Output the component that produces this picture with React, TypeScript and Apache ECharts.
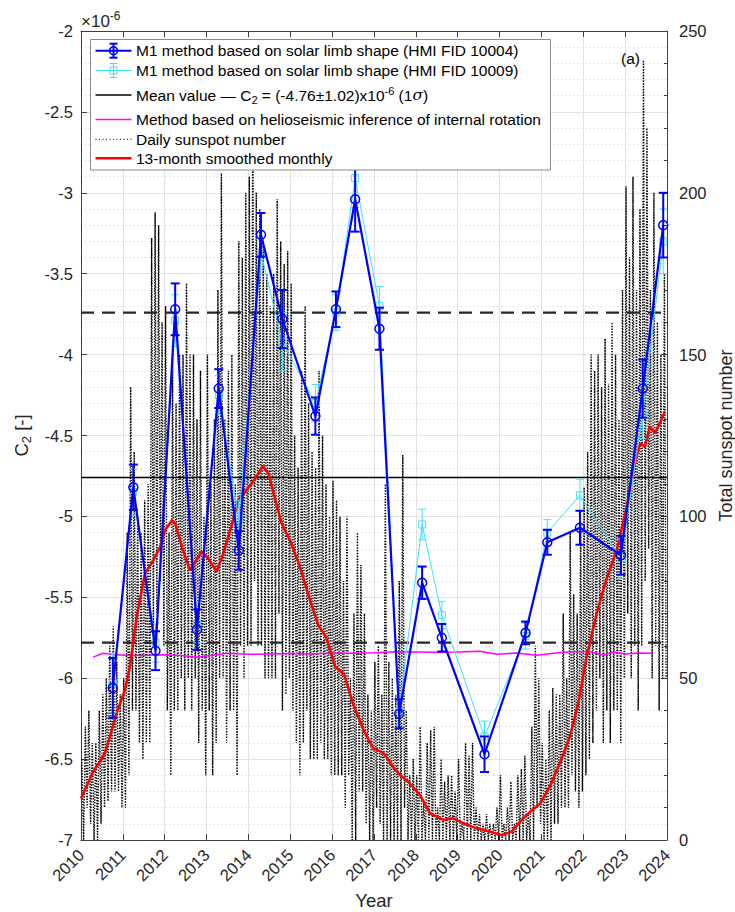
import React, { useEffect, useRef } from "react";
import * as echarts from "echarts";

// ---------- DATA ----------
const yearMin = 2010;
const yearMax = 2024;

// Epochs of the C2 measurements (decimal years)
const c2Years = [
  2010.76, 2011.25, 2011.78, 2012.25, 2012.77, 2013.29, 2013.77, 2014.3, 2014.81,
  2015.6, 2016.09, 2016.55, 2017.13, 2017.6, 2018.15, 2018.62, 2019.64, 2020.62,
  2021.14, 2021.92, 2022.9, 2023.42, 2023.91,
];
// M1 method, HMI FID 10004 (units of 1e-6)
const c2Fid10004 = [
  -6.06, -4.82, -5.83, -3.72, -5.7, -4.21, -5.21, -3.26, -3.78, -4.38, -3.72, -3.04,
  -3.84, -6.22, -5.41, -5.75, -6.47, -5.72, -5.16, -5.07, -5.24, -4.21, -3.2,
];
const c2Fid10004Err = [
  0.185, 0.14, 0.12, 0.16, 0.125, 0.12, 0.12, 0.135, 0.18, 0.115, 0.11, 0.2, 0.13,
  0.09, 0.1, 0.085, 0.11, 0.07, 0.077, 0.105, 0.12, 0.18, 0.2,
];
// M1 method, HMI FID 10009 (units of 1e-6)
const c2Fid10009 = [
  -6.03, -4.85, -5.78, -3.79, -5.66, -4.25, -5.02, -3.37, -3.92, -4.3, -3.74, -2.91,
  -3.7, -6.2, -5.05, -5.61, -6.36, -5.74, -5.1, -4.87, -5.26, -4.36, -3.3,
];
const c2Fid10009Err = [
  0.18, 0.14, 0.12, 0.16, 0.12, 0.12, 0.12, 0.13, 0.18, 0.115, 0.11, 0.18, 0.12,
  0.09, 0.095, 0.085, 0.095, 0.08, 0.08, 0.1, 0.12, 0.16, 0.2,
];
const meanC2 = -4.76;
const sigmaC2 = 1.02;

// Helioseismic inference of internal rotation
const helioYears = [
  2010.29, 2010.53, 2010.8, 2011.2, 2011.6, 2012.0, 2012.4, 2012.76, 2013.1, 2013.48,
  2014.0, 2014.5, 2015.0, 2015.5, 2016.0, 2016.5, 2017.0, 2017.5, 2018.0, 2018.5,
  2019.0, 2019.53, 2019.93, 2020.4, 2020.89, 2021.3, 2021.68, 2022.16, 2022.48,
  2022.72, 2023.0, 2023.3, 2023.66,
];
const helioC2 = [
  -5.87, -5.846, -5.855, -5.86, -5.858, -5.855, -5.86, -5.871, -5.86, -5.846, -5.852,
  -5.85, -5.848, -5.85, -5.845, -5.846, -5.842, -5.836, -5.838, -5.84, -5.838, -5.833,
  -5.852, -5.845, -5.858, -5.846, -5.836, -5.836, -5.858, -5.838, -5.85, -5.845, -5.846,
];

// Daily sunspot number: per-month upper and lower swings (2010-01 .. 2023-12)
const sunspotPeaks = [
  25, 35, 40, 30, 30, 40, 45, 50, 60, 66, 55, 45,
  50, 95, 140, 120, 100, 95, 105, 110, 186, 194, 190, 160,
  165, 95, 150, 135, 150, 150, 172, 150, 150, 130, 145, 100,
  150, 110, 130, 170, 206, 130, 145, 150, 110, 185, 180, 200,
  205, 225, 200, 195, 185, 175, 165, 175, 198, 185, 178, 182,
  172, 125, 115, 145, 165, 135, 120, 115, 145, 125, 110, 100,
  111, 105, 100, 80, 100, 50, 70, 95, 85, 70, 45, 40,
  55, 60, 45, 110, 55, 50, 45, 80, 119, 40, 20, 25,
  20, 35, 12, 30, 34, 35, 10, 25, 18, 20, 20, 15,
  25, 5, 30, 26, 30, 10, 8, 5, 8, 5, 5, 10,
  20, 5, 10, 18, 5, 20, 22, 26, 8, 35, 60, 50,
  30, 25, 40, 47, 45, 45, 70, 50, 95, 76, 70, 98,
  109, 120, 150, 145, 150, 140, 155, 141, 160, 150, 130, 170,
  202, 180, 205, 170, 195, 241, 220, 170, 200, 160, 150, 175,
];
const sunspotTroughs = [
  0, 10, 5, 0, 0, 5, 10, 12, 15, 15, 15, 10,
  10, 20, 40, 40, 30, 25, 30, 30, 60, 70, 80, 60,
  40, 20, 40, 40, 50, 40, 50, 40, 50, 30, 40, 20,
  40, 20, 30, 50, 50, 30, 40, 40, 20, 60, 50, 60,
  60, 80, 60, 60, 50, 50, 50, 50, 70, 40, 45, 50,
  40, 30, 20, 30, 40, 25, 25, 25, 30, 25, 25, 20,
  20, 20, 20, 10, 20, 0, 0, 15, 15, 5, 0, 0,
  10, 5, 0, 0, 0, 0, 0, 0, 10, 0, 0, 0,
  0, 0, 0, 0, 0, 0, 0, 0, 0, 0, 0, 0,
  0, 0, 0, 0, 0, 0, 0, 0, 0, 0, 0, 0,
  0, 0, 0, 0, 0, 0, 0, 0, 0, 0, 10, 5,
  0, 0, 0, 5, 5, 10, 10, 10, 20, 15, 10, 15,
  20, 25, 30, 40, 50, 30, 40, 30, 40, 40, 30, 50,
  70, 50, 60, 40, 60, 80, 90, 50, 60, 40, 50, 50,
];

// 13-month smoothed monthly sunspot number
const smoothedYears = [
  2010.0, 2010.29, 2010.45, 2010.57, 2010.69, 2010.85, 2011.05, 2011.17, 2011.33,
  2011.53, 2011.73, 2011.89, 2012.01, 2012.17, 2012.25, 2012.41, 2012.6, 2012.76,
  2012.88, 2013.04, 2013.24, 2013.4, 2013.6, 2013.76, 2013.92, 2014.08, 2014.24,
  2014.34, 2014.48, 2014.6, 2014.79, 2014.99, 2015.23, 2015.47, 2015.67, 2015.87,
  2015.95, 2016.07, 2016.29, 2016.51, 2016.75, 2016.98, 2017.22, 2017.46, 2017.62,
  2017.78, 2018.1, 2018.34, 2018.66, 2018.89, 2019.13, 2019.45, 2019.77, 2020.05,
  2020.29, 2020.53, 2020.73, 2020.97, 2021.2, 2021.44, 2021.68, 2021.88, 2022.08,
  2022.32, 2022.52, 2022.8, 2023.04, 2023.19, 2023.31, 2023.36, 2023.47, 2023.59,
  2023.71, 2023.83, 2023.95,
];
const smoothedSSN = [
  12.9, 21.1, 24.2, 26.8, 31.9, 39.2, 46.4, 53.6, 69.0, 82.4, 86.5, 90.6, 95.8, 98.7,
  97.9, 90.6, 83.4, 86.5, 89.1, 87.0, 82.9, 88.6, 97.3, 105.1, 107.6, 110.2, 113.3,
  115.6, 113.3, 107.1, 97.9, 92.7, 84.4, 74.2, 66.4, 62.3, 58.7, 53.6, 51.0, 41.7,
  34.0, 28.3, 27.0, 22.5, 20.1, 18.5, 13.9, 8.2, 6.2, 6.7, 5.2, 3.6, 2.6, 1.5, 2.6,
  6.2, 8.7, 11.3, 16.5, 23.7, 31.9, 42.2, 56.6, 70.0, 79.3, 89.6, 103.0, 114.3,
  120.5, 122.6, 121.5, 127.7, 125.7, 128.8, 132.4,
];

// ---------- STYLE ----------
const FONT = '"Liberation Sans", Arial, Helvetica, sans-serif';
const TXT = "#262626";
const BLUE = "#0000ff";
const CYAN = "#40e0ff";
const CLEAR = "rgba(0,0,0,0)";

function errorBarSeries(values: number[], errs: number[], color: string, width: number, capHalf: number, z: number) {
  return {
    type: "custom",
    xAxisIndex: 0,
    yAxisIndex: 0,
    z,
    silent: true,
    data: c2Years.map((x, i) => [x, values[i] - errs[i], values[i] + errs[i]]),
    encode: { x: 0, y: [1, 2] },
    renderItem: (_params: any, api: any) => {
      const x = api.value(0);
      const lo = api.coord([x, api.value(1)]);
      const hi = api.coord([x, api.value(2)]);
      const st = { stroke: color, lineWidth: width };
      return {
        type: "group",
        children: [
          { type: "line", shape: { x1: lo[0], y1: lo[1], x2: hi[0], y2: hi[1] }, style: st },
          { type: "line", shape: { x1: lo[0] - capHalf, y1: lo[1], x2: lo[0] + capHalf, y2: lo[1] }, style: st },
          { type: "line", shape: { x1: hi[0] - capHalf, y1: hi[1], x2: hi[0] + capHalf, y2: hi[1] }, style: st },
        ],
      };
    },
  };
}

function buildOption() {
  const dailyData: number[][] = [];
  sunspotPeaks.forEach((p, m) => {
    dailyData.push([yearMin + (m + 0.25) / 12, p]);
    dailyData.push([yearMin + (m + 0.75) / 12, sunspotTroughs[m]]);
  });

  // legend
  const LX0 = 95.5, LX1 = 131.5, LXM = 113.5, LT = 136;
  const rows = [50.7, 70.5, 95, 119.5, 139.3, 158.3];
  const legendFont = `15.5px ${FONT}`;
  const lt = (i: number, text: string, rich?: any) => ({
    type: "text",
    x: LT,
    y: rows[i],
    z: 102,
    style: { text, font: legendFont, fill: "#000", verticalAlign: "middle", rich },
  });
  const hl = (i: number, color: string, width: number, dash?: any) => ({
    type: "line",
    z: 101,
    shape: { x1: LX0, y1: rows[i], x2: LX1, y2: rows[i] },
    style: { stroke: color, lineWidth: width, lineDash: dash },
  });
  const errIcon = (i: number, color: string, w: number) => [
    { type: "line", z: 101, shape: { x1: LXM, y1: rows[i] - 7, x2: LXM, y2: rows[i] + 7 }, style: { stroke: color, lineWidth: w } },
    { type: "line", z: 101, shape: { x1: LXM - 4, y1: rows[i] - 7, x2: LXM + 4, y2: rows[i] - 7 }, style: { stroke: color, lineWidth: w } },
    { type: "line", z: 101, shape: { x1: LXM - 4, y1: rows[i] + 7, x2: LXM + 4, y2: rows[i] + 7 }, style: { stroke: color, lineWidth: w } },
  ];

  const graphic: any[] = [
    { type: "rect", z: 100, shape: { x: 90.5, y: 39.5, width: 460, height: 130.5 }, style: { fill: "#fff", stroke: "#8a8a8a", lineWidth: 1 } },
    hl(0, BLUE, 2),
    ...errIcon(0, BLUE, 2),
    { type: "circle", z: 102, shape: { cx: LXM, cy: rows[0], r: 4 }, style: { fill: "none", stroke: BLUE, lineWidth: 1.5 } },
    lt(0, "M1 method based on solar limb shape (HMI FID 10004)"),
    hl(1, CYAN, 1),
    ...errIcon(1, CYAN, 1),
    { type: "rect", z: 102, shape: { x: LXM - 3.5, y: rows[1] - 3.5, width: 7, height: 7 }, style: { fill: "none", stroke: CYAN, lineWidth: 1 } },
    lt(1, "M1 method based on solar limb shape (HMI FID 10009)"),
    hl(2, "#000", 1.5),
    lt(2, "Mean value — C{sub|2} = (-4.76±1.02)x10{sup|-6} (1{it|σ})", {
      sub: { fontSize: 11, fontFamily: FONT, fill: "#000", padding: [9, 0, 0, 0] },
      sup: { fontSize: 11, fontFamily: FONT, fill: "#000", padding: [0, 0, 9, 0] },
      it: { fontSize: 15.5, fontFamily: "DejaVu Serif", fontStyle: "italic", fill: "#000" },
    }),
    hl(3, "#ff00ff", 1.5),
    lt(3, "Method based on helioseismic inference of internal rotation"),
    hl(4, "#000", 1, [1, 2.5]),
    lt(4, "Daily sunspot number"),
    hl(5, "#ff0000", 2.5),
    lt(5, "13-month smoothed monthly"),
    {
      type: "text",
      x: 81,
      y: 21,
      z: 102,
      style: {
        text: "×10{sup|-6}",
        font: `17px ${FONT}`,
        fill: TXT,
        verticalAlign: "middle",
        rich: { sup: { fontSize: 12, fontFamily: FONT, fill: TXT, padding: [0, 0, 11, 0] } },
      },
    },
    { type: "text", x: 621, y: 58, z: 102, style: { text: "(a)", font: `15.5px ${FONT}`, fill: "#000", verticalAlign: "middle" } },
  ];

  const axisLineStyle = { color: "#404040", width: 1 };

  return {
    animation: false,
    backgroundColor: "#fff",
    textStyle: { fontFamily: FONT },
    grid: { left: 81, right: 68, top: 31, bottom: 72, containLabel: false, outerBoundsMode: "none" },
    xAxis: [
      {
        type: "value",
        min: yearMin,
        max: yearMax,
        interval: 1,
        position: "bottom",
        name: "Year",
        nameLocation: "middle",
        nameGap: 45,
        nameTextStyle: { fontSize: 18.5, color: TXT, fontFamily: FONT },
        axisLine: { show: true, onZero: false, lineStyle: axisLineStyle },
        axisTick: { show: true, inside: true, length: 6, lineStyle: axisLineStyle },
        axisLabel: { rotate: 45, fontSize: 16.5, color: TXT, fontFamily: FONT, margin: 12, formatter: (v: number) => String(v) },
        splitLine: { show: true, lineStyle: { color: "#e2e2e2", width: 1 } },
      },
      {
        type: "value",
        min: yearMin,
        max: yearMax,
        interval: 1,
        position: "top",
        axisLine: { show: true, onZero: false, lineStyle: axisLineStyle },
        axisTick: { show: true, inside: true, length: 6, lineStyle: axisLineStyle },
        axisLabel: { show: false },
        splitLine: { show: false },
      },
    ],
    yAxis: [
      {
        type: "value",
        min: -7,
        max: -2,
        interval: 0.5,
        position: "left",
        name: "C{sub|2} [-]",
        nameLocation: "middle",
        nameRotate: 90,
        nameGap: 48,
        nameTextStyle: {
          fontSize: 18.5,
          color: TXT,
          fontFamily: FONT,
          rich: { sub: { fontSize: 13, color: TXT, fontFamily: FONT, padding: [10, 0, 0, 0] } },
        },
        axisLine: { show: true, onZero: false, lineStyle: axisLineStyle },
        axisTick: { show: true, inside: true, length: 6, lineStyle: axisLineStyle },
        axisLabel: { fontSize: 16.5, color: TXT, fontFamily: FONT, margin: 8, formatter: (v: number) => String(v) },
        splitLine: { show: true, lineStyle: { color: "#e2e2e2", width: 1 } },
        minorTick: { show: false, splitNumber: 5 },
        minorSplitLine: { show: true, lineStyle: { color: "#cfcfcf", width: 1, type: [1, 3] } },
      },
      {
        type: "value",
        min: 0,
        max: 250,
        interval: 50,
        position: "right",
        name: "Total sunspot number",
        nameLocation: "middle",
        nameRotate: 90,
        nameGap: 45,
        nameTextStyle: { fontSize: 18, color: TXT, fontFamily: FONT },
        axisLine: { show: true, onZero: false, lineStyle: axisLineStyle },
        axisTick: { show: true, inside: true, length: 6, lineStyle: axisLineStyle },
        minorTick: { show: true, splitNumber: 5, length: 3, lineStyle: axisLineStyle },
        axisLabel: { fontSize: 16.5, color: TXT, fontFamily: FONT, margin: 12 },
        splitLine: { show: false },
      },
    ],
    graphic,
    series: [
      {
        name: "Daily sunspot number",
        type: "line",
        xAxisIndex: 0,
        yAxisIndex: 1,
        data: dailyData,
        symbol: "none",
        silent: true,
        z: 1,
        lineStyle: { color: "#000", width: 1.4, type: [1.4, 1.4] },
      },
      {
        name: "13-month smoothed monthly",
        type: "line",
        xAxisIndex: 0,
        yAxisIndex: 1,
        data: smoothedYears.map((x, i) => [x, smoothedSSN[i]]),
        symbol: "none",
        silent: true,
        z: 3,
        lineStyle: { color: "#ff0000", width: 2.6 },
      },
      {
        name: "Helioseismic",
        type: "line",
        xAxisIndex: 0,
        yAxisIndex: 0,
        data: helioYears.map((x, i) => [x, helioC2[i]]),
        symbol: "none",
        silent: true,
        z: 2,
        lineStyle: { color: "#ff00ff", width: 1.5 },
      },
      {
        name: "Mean",
        type: "line",
        xAxisIndex: 0,
        yAxisIndex: 0,
        data: [[yearMin, meanC2], [yearMax, meanC2]],
        symbol: "none",
        silent: true,
        z: 2,
        lineStyle: { color: "#000", width: 1.5 },
      },
      {
        name: "Mean + 1 sigma",
        type: "line",
        xAxisIndex: 0,
        yAxisIndex: 0,
        data: [[yearMin, meanC2 + sigmaC2], [yearMax, meanC2 + sigmaC2]],
        symbol: "none",
        silent: true,
        z: 2,
        lineStyle: { color: "#262626", width: 2.2, type: [13, 8] },
      },
      {
        name: "Mean - 1 sigma",
        type: "line",
        xAxisIndex: 0,
        yAxisIndex: 0,
        data: [[yearMin, meanC2 - sigmaC2], [yearMax, meanC2 - sigmaC2]],
        symbol: "none",
        silent: true,
        z: 2,
        lineStyle: { color: "#262626", width: 2.2, type: [13, 8] },
      },
      errorBarSeries(c2Fid10009, c2Fid10009Err, CYAN, 1, 4, 4),
      {
        name: "FID 10009",
        type: "line",
        xAxisIndex: 0,
        yAxisIndex: 0,
        data: c2Years.map((x, i) => [x, c2Fid10009[i]]),
        symbol: "rect",
        symbolSize: 7,
        showAllSymbol: true,
        silent: true,
        z: 4,
        itemStyle: { color: CLEAR, borderColor: CYAN, borderWidth: 1 },
        lineStyle: { color: CYAN, width: 1 },
      },
      errorBarSeries(c2Fid10004, c2Fid10004Err, BLUE, 2, 4.5, 5),
      {
        name: "FID 10004",
        type: "line",
        xAxisIndex: 0,
        yAxisIndex: 0,
        data: c2Years.map((x, i) => [x, c2Fid10004[i]]),
        symbol: "circle",
        symbolSize: 9,
        showAllSymbol: true,
        silent: true,
        z: 5,
        itemStyle: { color: CLEAR, borderColor: BLUE, borderWidth: 1.5 },
        lineStyle: { color: BLUE, width: 2.2 },
      },
    ],
  };
}

export default function App() {
  const ref = useRef<HTMLDivElement | null>(null);
  useEffect(() => {
    document.body.style.margin = "0";
    document.documentElement.style.overflow = "hidden";
    if (!ref.current) return;
    const chart = echarts.init(ref.current, undefined, { renderer: "svg" });
    chart.setOption(buildOption() as any);
    return () => chart.dispose();
  }, []);
  return <div ref={ref} style={{ width: 735, height: 912 }} />;
}
